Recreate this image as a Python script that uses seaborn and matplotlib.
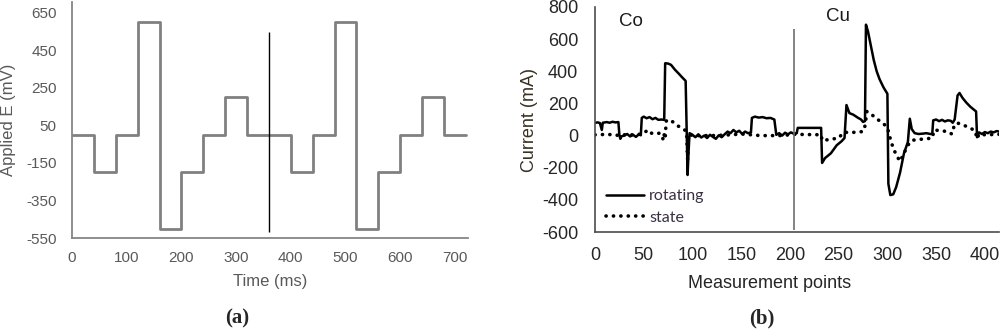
import matplotlib
matplotlib.use("Agg")
import matplotlib.pyplot as plt
import seaborn as sns
import numpy as np

# panel (a): applied potential steps
time_ms = [0, 40, 80, 120, 160, 200, 240, 280, 320, 360, 400, 440, 480, 520, 560, 600, 640, 680, 720]
applied_mv = [0, -200, 0, 600, -500, -200, 0, 200, 0, 0, -200, 0, 600, -500, -200, 0, 200, 0, 0]

# panel (b): measured current
rot_x = [0, 3, 5, 7, 8, 12, 15, 18, 21, 24, 25, 26, 27, 30, 33, 36, 39, 42, 45, 47,
         48, 50, 53, 56, 59, 62, 65, 68, 71, 72, 75, 78, 82, 86, 89, 93, 94, 95, 96, 97,
         100, 103, 106, 109, 112, 115, 118, 121, 124, 127, 130, 133, 136, 139, 142, 145,
         148, 151, 154, 157, 160, 161, 164, 168, 172, 176, 180, 184, 186, 189, 192, 195,
         198, 201, 204, 207, 208, 215, 225, 232, 233, 236, 242, 248, 253, 256, 258, 261,
         265, 270, 273, 275, 277, 278, 280, 283, 286, 289, 292, 296, 300, 301, 303, 306,
         309, 313, 317, 321, 323, 325, 328, 332, 336, 340, 344, 346, 347, 350, 353, 356,
         359, 362, 365, 367, 369, 372, 374, 377, 381, 385, 389, 391, 392, 394, 397, 400,
         403, 406, 409, 412, 415]
rot_y = [80, 82, 78, 35, 80, 84, 80, 86, 82, 84, 5, -20, -5, 0, 10, -5, 5, -8, 8, 2,
         110, 118, 108, 115, 102, 110, 98, 100, 98, 450, 448, 440, 410, 385, 365, 340, 30, -245, -100, 15,
         5, -10, 8, -12, 0, -15, 5, -8, -20, 2, -10, 8, 25, 15, 35, 20,
         30, 10, 25, 15, 20, 110, 118, 112, 115, 108, 110, 100, 5, 15, 0, 18,
         8, 20, 12, 15, 48, 48, 48, 48, -170, -140, -110, -60, -35, -15, 190, 140,
         130, 110, 100, 85, 90, 690, 650, 560, 470, 400, 350, 300, 260, -300, -370, -365,
         -320, -230, -110, -40, 105, 40, 15, 10, 12, 15, 10, 10, 95, 100, 90, 98,
         88, 95, 92, 80, 100, 250, 265, 235, 205, 180, 160, 150, -10, 20, 10, 22,
         15, 25, 20, 28, 25]

state_x = [0, 5, 10, 20, 25, 30, 40, 48, 52, 55, 58, 62, 66, 69, 70, 71, 72, 73, 75, 80,
           85, 90, 94, 95, 96, 100, 120, 140, 150, 160, 170, 190, 200, 204, 232, 233, 240, 250,
           255, 265, 275, 277, 279, 285, 290, 295, 300, 303, 306, 310, 313, 317, 321, 325,
           330, 340, 346, 348, 355, 362, 366, 369, 372, 378, 384, 390, 392, 394, 400, 415]
state_y = [5, 5, 8, 5, 0, 5, 5, 10, 25, 35, 15, 10, 15, 0, -30, 5, -20, 90, 100, 85,
           60, 45, 25, -150, 10, 0, 0, 5, 10, 5, 0, 0, 5, 8, 5, -30, -25, -15,
           20, 20, 25, 60, 150, 125, 100, 80, 50, -20, -80, -130, -160, -110, -60, -30,
           -25, -20, -15, 35, 30, 25, 10, 70, 78, 65, 50, 30, -20, 10, 5, 8]

sns.set_theme(style="white")
plt.rcParams["font.family"] = ["Liberation Sans", "DejaVu Sans"]
plt.rcParams["axes.unicode_minus"] = False

fig = plt.figure(figsize=(10, 3.32), dpi=100)
ax1 = fig.add_axes([0.072, 0.283, 0.396, 0.711])
ax2 = fig.add_axes([0.595, 0.301, 0.404, 0.678])

# ---- panel (a)
grey = "#595959"
sns.lineplot(x=time_ms, y=applied_mv, ax=ax1, color="#808080", linewidth=2.0,
             drawstyle="steps-post", estimator=None, sort=False)
ax1.vlines(360, -520, 550, color="black", linewidth=1.0)
ax1.set_xlim(0, 724)
ax1.set_ylim(-550, 708)
ax1.set_xticks(range(0, 701, 100))
ax1.set_yticks(range(-550, 651, 200))
ax1.tick_params(axis="both", length=0, labelsize=11, labelcolor=grey)
ax1.tick_params(axis="y", pad=11)
ax1.tick_params(axis="x", pad=9)
for s in ["top", "right"]:
    ax1.spines[s].set_visible(False)
for s in ["left", "bottom"]:
    ax1.spines[s].set_color("#868686")
    ax1.spines[s].set_linewidth(1.3)
ax1.set_xlabel("Time (ms)", fontsize=12, color=grey, labelpad=7)
ax1.set_ylabel("Applied E (mV)", fontsize=12, color=grey)
ax1.yaxis.set_label_coords(-0.142, 0.5)

# ---- panel (b)
dark = "#262626"
sns.lineplot(x=rot_x, y=rot_y, ax=ax2, color="black", linewidth=1.8,
             estimator=None, sort=False, label="rotating")
sns.lineplot(x=state_x, y=state_y, ax=ax2, color="black", linewidth=2.6,
             linestyle=(0, (0.05, 2.0)), dash_capstyle="round",
             estimator=None, sort=False, label="state")
ax2.vlines(204, -590, 660, color="#6e6e6e", linewidth=1.2)
ax2.set_xlim(0, 414.5)
ax2.set_ylim(-600, 800)
ax2.set_xticks(range(0, 401, 50))
ax2.set_yticks(range(-600, 801, 200))
ax2.tick_params(axis="both", length=0, labelsize=13, labelcolor=dark)
ax2.tick_params(axis="y", pad=12)
ax2.tick_params(axis="x", pad=11)
for s in ["top", "right"]:
    ax2.spines[s].set_visible(False)
for s in ["left", "bottom"]:
    ax2.spines[s].set_color("#4d4d4d")
    ax2.spines[s].set_linewidth(1.2)
ax2.set_ylabel("Current (mA)", fontsize=13, color="#3b3020")
ax2.yaxis.set_label_coords(-0.141, 0.5)
ax2.set_xlabel("Measurement points", fontsize=13, color=dark)
ax2.xaxis.set_label_coords(0.433, -0.19)
ax2.text(37, 707, "Co", fontsize=13.5, color="#1a1a1a", ha="center", va="center")
ax2.text(249, 738, "Cu", fontsize=13.5, color="#1a1a1a", ha="center", va="center")
leg = ax2.legend(loc="center left", bbox_to_anchor=(0.027, 0.111), frameon=False,
                 handlelength=2.4, handletextpad=0.3, labelspacing=0.45,
                 borderaxespad=0, borderpad=0, prop={"family": "Lato", "size": 11.5})
for t in leg.get_texts():
    t.set_color("#3a2f45")

fig.text(0.237, 0.042, "(a)", fontsize=15, fontweight="bold", family="Liberation Serif",
         ha="center", va="center")
fig.text(0.762, 0.042, "(b)", fontsize=15, fontweight="bold", family="Liberation Serif",
         ha="center", va="center")

fig.savefig("out.png", dpi=100)
